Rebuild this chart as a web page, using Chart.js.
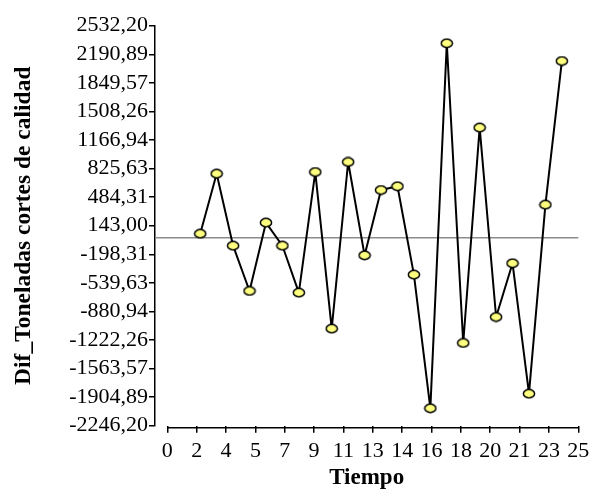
<!DOCTYPE html>
<html>
<head>
<meta charset="utf-8">
<script src="https://cdn.jsdelivr.net/npm/chart.js@4"></script>
<style>
  html, body { margin: 0; padding: 0; background: #fff; }
  #wrap { width: 591px; height: 491px; }
</style>
</head>
<body>
<div id="wrap"><canvas id="chart" width="591" height="491"></canvas></div>
<script>
// data
const tiempo = [2, 3, 4, 5, 6, 7, 8, 9, 10, 11, 12, 13, 14, 15, 16, 17, 18, 19, 20, 21, 22, 23, 24];
const difToneladas = [47, 764, -96, -637, 179, -96, -657, 784, -1087, 904, -211, 569, 614, -442,
    -2038, 2322, -1258, 1314, -948, -306, -1864, 394, 2110];

const xTickLabels = ['0', '2', '4', '5', '7', '9', '11', '13', '14', '16', '18', '20', '21', '23', '25'];
const yTickLabels = ['2532,20', '2190,89', '1849,57', '1508,26', '1166,94', '825,63', '484,31', '143,00',
    '-198,31', '-539,63', '-880,94', '-1222,26', '-1563,57', '-1904,89', '-2246,20'];

const xMin = 0, xMax = 25;
const yVals = yTickLabels.map(l => parseFloat(l.replace(',', '.')));
const yMin = Math.min(...yVals), yMax = Math.max(...yVals);

// ellipse marker (the original is slightly wider than tall)
function makeMarker() {
    const c = document.createElement('canvas');
    c.width = 14; c.height = 11;
    const g = c.getContext('2d');
    g.beginPath();
    g.ellipse(7, 5.5, 5.6, 4.2, 0, 0, Math.PI * 2);
    g.fillStyle = '#ffff80';
    g.fill();
    g.lineWidth = 1.5;
    g.strokeStyle = '#000';
    g.stroke();
    return c;
}

const zeroLine = {
    id: 'zeroLine',
    beforeDatasetsDraw(chart) {
        const { ctx, chartArea, scales } = chart;
        const y = scales.y.getPixelForValue(0);
        ctx.save();
        ctx.strokeStyle = '#8c8c8c';
        ctx.lineWidth = 1.5;
        ctx.beginPath();
        ctx.moveTo(chartArea.left, y);
        ctx.lineTo(scales.x.getPixelForValue(xMax), y);
        ctx.stroke();
        // x axis line starts at 0, not at the y axis
        const yb = chartArea.bottom + 2;
        ctx.strokeStyle = '#000';
        ctx.lineWidth = 1.5;
        ctx.beginPath();
        ctx.moveTo(scales.x.getPixelForValue(xMin), yb);
        ctx.lineTo(scales.x.getPixelForValue(xMax), yb);
        ctx.stroke();
        ctx.restore();
    }
};

const serif = 'Liberation Serif';

new Chart(document.getElementById('chart'), {
    type: 'line',
    data: {
        datasets: [{
            data: tiempo.map((t, i) => ({ x: t, y: difToneladas[i] })),
            borderColor: '#000',
            borderWidth: 2,
            borderJoinStyle: 'round',
            pointStyle: makeMarker(),
            tension: 0
        }]
    },
    options: {
        responsive: false,
        animation: false,
        layout: { padding: { left: 0, right: 12.7, top: 25.7, bottom: 0 } },
        plugins: { legend: { display: false }, tooltip: { enabled: false } },
        scales: {
            x: {
                type: 'linear',
                min: -0.75,
                max: xMax,
                afterBuildTicks: s => {
                    s.ticks = xTickLabels.map((l, i) => ({ value: xMin + i * (xMax - xMin) / (xTickLabels.length - 1) }));
                },
                afterFit: s => {
                    s.height = 491 - 425.7;
                    s.paddingLeft = 0;
                    s.paddingRight = 0;
                },
                ticks: {
                    autoSkip: false,
                    maxRotation: 0,
                    padding: 5,
                    color: '#000',
                    font: { family: serif, size: 22 },
                    callback: (v, i) => xTickLabels[i]
                },
                grid: { drawOnChartArea: false, drawTicks: true, tickLength: 7, color: '#000', lineWidth: 1.5 },
                border: { display: false },
                title: {
                    display: true,
                    text: 'Tiempo',
                    color: '#000',
                    font: { family: serif, size: 23, weight: 'bold', lineHeight: 1.1 },
                    padding: { top: 0, bottom: 0 }
                }
            },
            y: {
                type: 'linear',
                min: yMin,
                max: yMax,
                afterBuildTicks: s => {
                    s.ticks = yVals.slice().reverse().map(v => ({ value: v }));
                },
                afterFit: s => { s.width = 155; },
                ticks: {
                    autoSkip: false,
                    padding: 1,
                    color: '#000',
                    font: { family: serif, size: 22 },
                    callback: (v, i) => yTickLabels[yTickLabels.length - 1 - i]
                },
                grid: { drawOnChartArea: false, drawTicks: true, tickLength: 6, color: '#000', lineWidth: 1.5 },
                border: { display: true, color: '#000', width: 1.5 },
                title: {
                    display: true,
                    text: 'Dif_Toneladas cortes de calidad',
                    color: '#000',
                    font: { family: serif, size: 23.5, weight: 'bold' },
                    padding: { top: 10, bottom: 0 }
                }
            }
        }
    },
    plugins: [zeroLine]
});
</script>
</body>
</html>
